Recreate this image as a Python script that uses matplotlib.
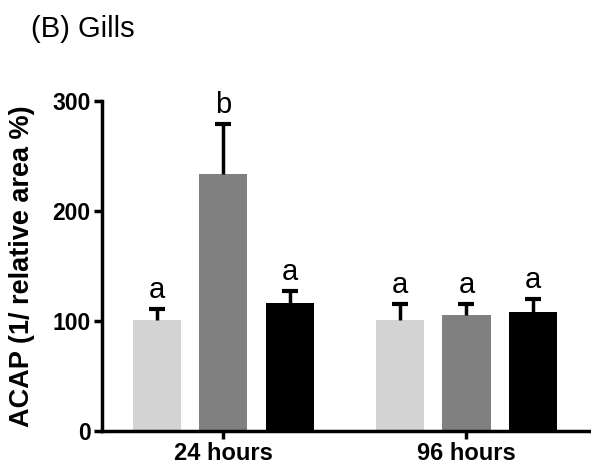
import numpy as np
import matplotlib.pyplot as plt

plt.rcParams['font.family'] = ['Liberation Sans', 'DejaVu Sans']

# ACAP in gills, three treatments per sampling time
groups = ['24 hours', '96 hours']
means = [[101, 234, 116],
         [101, 105, 108]]
errors = [[10, 45, 11],
          [14, 10, 12]]
letters = [['a', 'b', 'a'],
           ['a', 'a', 'a']]
colors = ['#d3d3d3', '#808080', '#000000']

fig = plt.figure(figsize=(5.91, 4.74), dpi=100)
ax = fig.add_axes([0.172, 0.091, 0.826, 0.696])

offsets = [-0.273, 0.0, 0.273]
width = 0.198
for g in range(len(groups)):
    for i in range(3):
        x = g + offsets[i]
        m = means[g][i]
        e = errors[g][i]
        ax.bar(x, m, width=width, color=colors[i], edgecolor='none', zorder=2)
        _, caps, _ = ax.errorbar(x, m, yerr=[[0], [e]], fmt='none', ecolor='black',
                                 elinewidth=2.5, capsize=6, capthick=3, zorder=3)
        # keep only the upper cap
        for c in caps:
            if c.get_ydata()[0] <= m:
                c.set_visible(False)
        ax.text(x, m + e + 10, letters[g][i], ha='center', va='baseline',
                fontsize=21)

ax.set_xlim(-0.5, 1.507)
ax.set_ylim(0, 300)
ax.set_yticks([0, 100, 200, 300])
ax.set_xticks(range(len(groups)))
ax.set_xticklabels(groups, fontsize=17, fontweight='bold')
for lab in ax.get_yticklabels():
    lab.set_fontsize(16.5)
    lab.set_fontweight('bold')
ax.set_ylabel('ACAP (1/ relative area %)', fontsize=19.5, fontweight='bold',
              labelpad=12)

for side in ['top', 'right']:
    ax.spines[side].set_visible(False)
for side in ['left', 'bottom']:
    ax.spines[side].set_linewidth(2.5)
ax.tick_params(width=2.5, length=6, pad=2)

fig.text(0.052, 0.921, '(B) Gills', fontsize=21, ha='left', va='baseline')

fig.savefig('out.png', dpi=100)
